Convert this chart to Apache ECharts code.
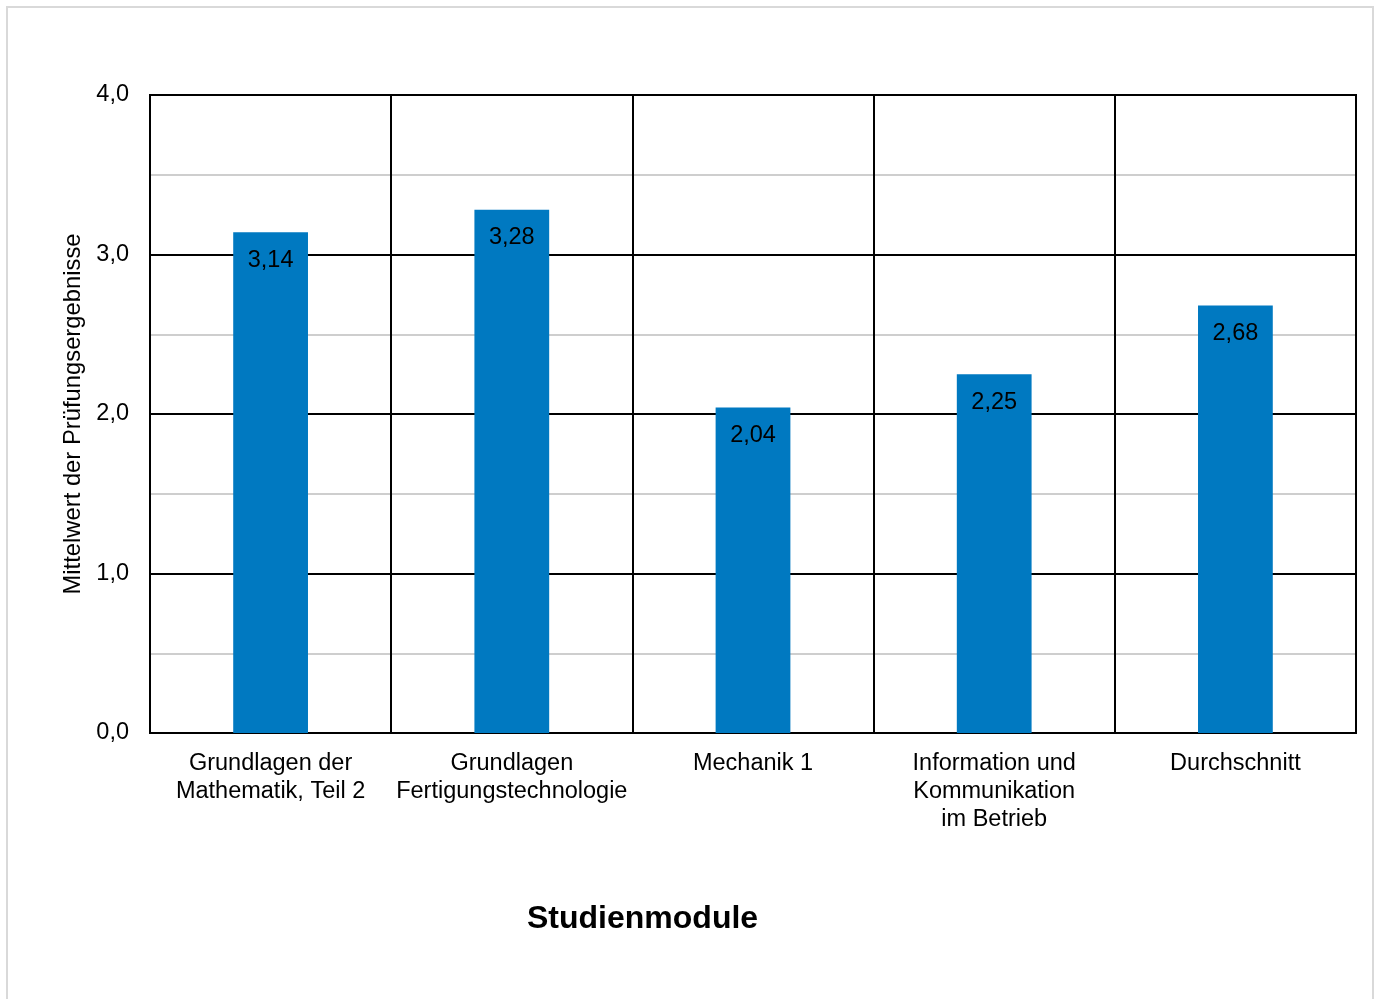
<!DOCTYPE html>
<html><head><meta charset="utf-8">
<style>html,body{margin:0;padding:0;background:#fff;}#c{width:1379px;height:999px;}</style>
<script src="https://cdn.jsdelivr.net/npm/echarts@6/dist/echarts.min.js"></script>
</head><body><div id="c"></div>
<script>
const categories = ['Grundlagen der\nMathematik, Teil 2', 'Grundlagen\nFertigungstechnologie', 'Mechanik 1', 'Information und\nKommunikation\nim Betrieb', 'Durchschnitt'];
const values = [3.14, 3.28, 2.04, 2.25, 2.68];
const yTicks = [0, 1, 2, 3, 4];
const yAxisName = 'Mittelwert der Prüfungsergebnisse';
const xAxisName = 'Studienmodule';

const font = '"Liberation Sans", Arial, sans-serif';
const chart = echarts.init(document.getElementById('c'));
chart.setOption({
  animation: false,
  textStyle: { fontFamily: font },
  graphic: [{
    type: 'rect', shape: { x: 7, y: 7, width: 1366, height: 1010 },
    style: { fill: 'none', stroke: '#d9d9d9', lineWidth: 2 }, silent: true
  }, {
    type: 'text', left: 527, top: 903,
    style: { text: xAxisName, font: 'bold 32px "Liberation Sans", Arial, sans-serif', fill: '#000' }
  }],
  grid: { left: 150, right: 23, top: 95, bottom: 266, show: true, borderColor: '#000', borderWidth: 2 },
  xAxis: {
    type: 'category', data: categories,
    axisLine: { lineStyle: { color: '#000', width: 2 } },
    axisTick: { show: false },
    splitLine: { show: true, lineStyle: { color: '#000', width: 2 } },
    axisLabel: { color: '#000', fontSize: 23.5, lineHeight: 28, margin: 17, interval: 0, fontFamily: font }
  },
  yAxis: {
    type: 'value', min: 0, max: 4, interval: 1,
    name: yAxisName, nameLocation: 'middle', nameGap: 64, nameRotate: 90,
    nameTextStyle: { color: '#000', fontSize: 23.8, fontFamily: font },
    axisLine: { show: true, lineStyle: { color: '#000', width: 2 } },
    axisTick: { show: false },
    axisLabel: { color: '#000', fontSize: 23.5, margin: 21, fontFamily: font, padding: [3, 0, 0, 0],
      formatter: v => yTicks.includes(v) ? v.toFixed(1).replace('.', ',') : '' },
    splitLine: { show: true, lineStyle: { color: '#000', width: 2 } },
    minorTick: { show: false, splitNumber: 2 },
    minorSplitLine: { show: true, lineStyle: { color: '#bfbfbf', width: 1.5 } }
  },
  series: [{
    type: 'bar', data: values, barWidth: '31%',
    itemStyle: { color: '#0079c1' },
    label: { show: true, position: 'insideTop', distance: 16, color: '#000', fontSize: 23.5, fontFamily: font,
      formatter: p => p.value.toFixed(2).replace('.', ',') }
  }]
});
</script></body></html>
